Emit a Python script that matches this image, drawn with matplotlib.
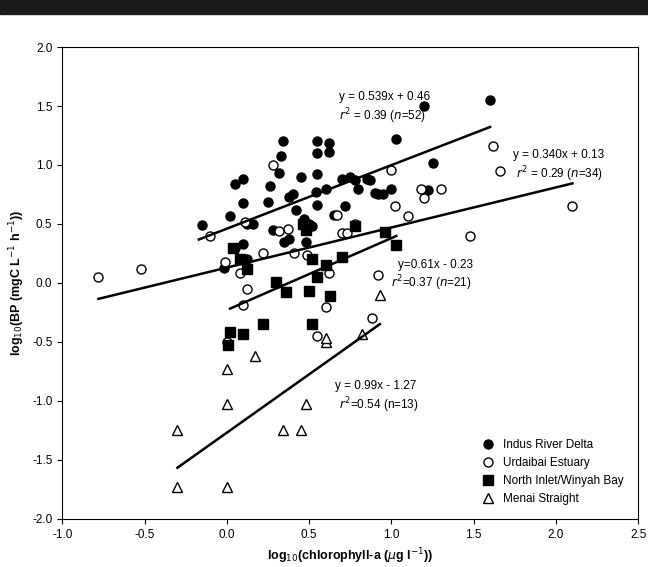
import numpy as np
import matplotlib.pyplot as plt
from matplotlib.patches import Rectangle

plt.rcParams['font.family'] = ['Liberation Sans', 'DejaVu Sans']

# Indus River Delta
indus_x = [-0.15, -0.02, 0.02, 0.05, 0.1, 0.1, 0.12, 0.1, 0.12, 0.25, 0.26, 0.28, 0.32, 0.33, 0.34,
           0.35, 0.38, 0.4, 0.42, 0.45, 0.47, 0.5, 0.52, 0.54, 0.55, 0.55, 0.55, 0.55, 0.6, 0.62,
           0.62, 0.65, 0.7, 0.72, 0.75, 0.78, 0.8, 0.85, 0.87, 0.9, 0.92, 0.95, 1.0, 1.03, 1.2,
           1.22, 1.25, 1.6, 0.48, 0.38, 0.05, 0.16]
indus_y = [0.49, 0.13, 0.57, 0.84, 0.88, 0.68, 0.5, 0.33, 0.2, 0.69, 0.82, 0.45, 0.93, 1.08, 1.2,
           0.35, 0.73, 0.75, 0.62, 0.9, 0.54, 0.5, 0.48, 0.77, 1.2, 1.1, 0.66, 0.92, 0.8, 1.11,
           1.19, 0.58, 0.88, 0.65, 0.9, 0.87, 0.8, 0.88, 0.87, 0.76, 0.75, 0.75, 0.8, 1.22, 1.5,
           0.79, 1.02, 1.55, 0.35, 0.37, 0.3, 0.5]
# Urdaibai Estuary
urd_x = [-0.78, -0.52, -0.1, -0.01, 0.0, 0.08, 0.1, 0.12, 0.11, 0.22, 0.28, 0.32, 0.37, 0.41, 0.49,
         0.55, 0.6, 0.62, 0.67, 0.7, 0.73, 0.78, 0.88, 0.92, 1.0, 1.02, 1.1, 1.18, 1.2, 1.3, 1.48,
         1.62, 1.66, 2.1]
urd_y = [0.05, 0.12, 0.4, 0.18, -0.5, 0.08, -0.19, -0.05, 0.52, 0.25, 1.0, 0.44, 0.46, 0.25, 0.24,
         -0.45, -0.2, 0.08, 0.58, 0.42, 0.42, 0.5, -0.3, 0.07, 0.96, 0.65, 0.57, 0.8, 0.72, 0.8, 0.4,
         1.16, 0.95, 0.65]
# North Inlet/Winyah Bay
ni_x = [0.02, 0.01, 0.04, 0.08, 0.1, 0.12, 0.22, 0.3, 0.36, 0.46, 0.48, 0.5, 0.52, 0.52, 0.55,
        0.6, 0.63, 0.7, 0.78, 0.96, 1.03]
ni_y = [-0.42, -0.53, 0.3, 0.2, -0.43, 0.12, -0.35, 0.01, -0.08, 0.5, 0.45, -0.07, -0.35, 0.2, 0.05,
        0.15, -0.11, 0.22, 0.48, 0.43, 0.32]
# Menai Straight
men_x = [-0.3, -0.3, 0.0, 0.0, 0.0, 0.17, 0.34, 0.45, 0.48, 0.6, 0.82, 0.93, 0.6]
men_y = [-1.25, -1.73, -0.73, -1.03, -1.73, -0.62, -1.25, -1.25, -1.03, -0.5, -0.43, -0.1, -0.47]

# regression lines: slope, intercept, x range
fits = [(0.539, 0.46, -0.17, 1.6), (0.340, 0.13, -0.78, 2.1),
        (0.61, -0.23, 0.02, 1.03), (0.99, -1.27, -0.3, 0.93)]

fig = plt.figure(figsize=(6.48, 5.67), dpi=100)
fig.patches.append(Rectangle((0, 0.975), 1, 0.025, transform=fig.transFigure,
                             color='#1a1a1a', zorder=0))
ax = fig.add_axes([0.096, 0.085, 0.889, 0.832])

ms = 6.5
ax.plot(indus_x, indus_y, 'o', color='black', ms=ms, label='Indus River Delta')
ax.plot(urd_x, urd_y, 'o', mfc='white', mec='black', mew=1, ms=ms, label='Urdaibai Estuary')
ax.plot(ni_x, ni_y, 's', color='black', ms=ms, label='North Inlet/Winyah Bay')
ax.plot(men_x, men_y, '^', mfc='white', mec='black', mew=1, ms=ms + 1, label='Menai Straight')

for m, b, x0, x1 in fits:
    xs = np.array([x0, x1])
    ax.plot(xs, m * xs + b, color='black', lw=1.8)

fs = 8.5
ax.text(0.68, 1.55, 'y = 0.539x + 0.46', fontsize=fs)
ax.text(0.68, 1.38, '$r^2$ = 0.39 ($n$=52)', fontsize=fs)
ax.text(1.74, 1.06, 'y = 0.340x + 0.13', fontsize=fs)
ax.text(1.76, 0.89, '$r^2$ = 0.29 ($n$=34)', fontsize=fs)
ax.text(1.04, 0.13, 'y=0.61x - 0.23', fontsize=fs)
ax.text(1.0, -0.04, '$r^2$=0.37 ($n$=21)', fontsize=fs)
ax.text(0.66, -0.9, 'y = 0.99x - 1.27', fontsize=fs)
ax.text(0.68, -1.07, '$r^2$=0.54 (n=13)', fontsize=fs)

ax.set_xlim(-1.0, 2.5)
ax.set_ylim(-2.0, 2.0)
ax.set_xticks(np.arange(-1.0, 2.51, 0.5))
ax.set_yticks(np.arange(-2.0, 2.01, 0.5))
ax.xaxis.set_major_formatter(plt.FormatStrFormatter('%.1f'))
ax.yaxis.set_major_formatter(plt.FormatStrFormatter('%.1f'))
ax.tick_params(labelsize=8.5, direction='out')
ax.set_xlabel(r'log$_{10}$(chlorophyll-a ($\mu$g l$^{-1}$))', fontsize=9, fontweight='bold')
ax.set_ylabel(r'log$_{10}$(BP (mgC L$^{-1}$ h$^{-1}$))', fontsize=9, fontweight='bold')
ax.legend(loc='lower right', frameon=False, fontsize=8.5, handletextpad=0.3,
          borderaxespad=0.8)

fig.savefig('out.png', dpi=100)
